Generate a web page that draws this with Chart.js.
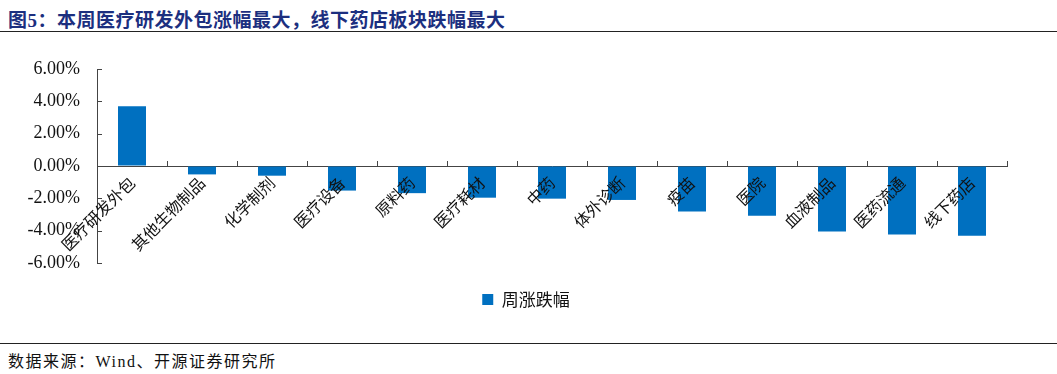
<!DOCTYPE html>
<html>
<head>
<meta charset="utf-8">
<script src="https://cdn.jsdelivr.net/npm/chart.js@4"></script>
<style>
  body { margin: 0; background: #fff; width: 1057px; height: 374px; position: relative; overflow: hidden; }
  #title { position: absolute; left: 8px; top: 5px; font: bold 19px "Liberation Serif", "Noto Sans CJK SC", serif; color: #1c2f7f; letter-spacing: 0.5px; }
  #topline { position: absolute; left: 0; top: 31px; width: 1057px; height: 0; border-top: 1.5px solid #222; }
  #bottomline { position: absolute; left: 0; top: 343px; width: 1057px; height: 0; border-top: 1px solid #222; }
  #source { position: absolute; left: 8px; top: 348px; font: 16px "Liberation Serif", "Noto Sans CJK SC", serif; color: #111; letter-spacing: 1.5px; }
  #wrap { position: absolute; left: 0; top: 40px; width: 1057px; height: 300px; }
</style>
</head>
<body>
<div id="title">图5：本周医疗研发外包涨幅最大，线下药店板块跌幅最大</div>
<div id="topline"></div>
<div id="wrap"><canvas id="chart"></canvas></div>
<div id="bottomline"></div>
<div id="source">数据来源：Wind、开源证券研究所</div>
<script>
const categories = ["医疗研发外包", "其他生物制品", "化学制剂", "医疗设备", "原料药", "医疗耗材", "中药", "体外诊断", "疫苗", "医院", "血液制品", "医药流通", "线下药店"];
const weeklyChange = [3.69, -0.52, -0.60, -1.52, -1.68, -1.96, -2.02, -2.10, -2.82, -3.07, -4.05, -4.23, -4.31];
const yTicks = [-6, -4, -2, 0, 2, 4, 6];

// tick marks drawn inside the plot: upward on the zero line, rightward on the y axis
const innerTicks = {
    id: "innerTicks",
    afterLayout(chart) {
        // y axis is kept narrow so the legend sits where it should; don't clip its labels
        chart.scales.y._computeLabelArea = () => undefined;
    },
    afterDatasetsDraw(chart) {
        const x = chart.scales.x, y = chart.scales.y;
        const y0 = y.getPixelForValue(0);
        const ctx = chart.ctx;
        ctx.save();
        ctx.strokeStyle = "#444";
        ctx.lineWidth = 1;
        ctx.beginPath();
        for (let i = 0; i <= categories.length; i++) {
            const px = Math.round(x.getPixelForValue(i - 0.5)) + 0.5;
            ctx.moveTo(px, y0);
            ctx.lineTo(px, y0 - 5);
        }
        yTicks.forEach(v => {
            const py = Math.round(y.getPixelForValue(v)) + 0.5;
            ctx.moveTo(x.left, py);
            ctx.lineTo(x.left + 5, py);
        });
        ctx.stroke();
        ctx.restore();
    }
};

new Chart(document.getElementById("chart"), {
    type: "bar",
    data: {
        labels: categories,
        datasets: [{
            label: "周涨跌幅",
            data: weeklyChange,
            backgroundColor: "#0070c0",
            borderWidth: 0,
            barPercentage: 0.4,
            categoryPercentage: 1
        }]
    },
    options: {
        responsive: true,
        maintainAspectRatio: false,
        animation: false,
        layout: { padding: { left: 45, right: 50, top: 29, bottom: 22 } },
        plugins: {
            tooltip: { enabled: false },
            legend: {
                position: "bottom",
                labels: {
                    boxWidth: 11, boxHeight: 11, color: "#111", padding: 28,
                    font: { family: "'Noto Sans CJK SC', sans-serif", size: 17 }
                }
            }
        },
        scales: {
            x: {
                position: { y: 0 },
                grid: { display: false, drawTicks: false },
                border: { color: "#444", width: 1 },
                ticks: {
                    z: 1,
                    maxRotation: 45, minRotation: 45, padding: 7, color: "#111",
                    autoSkip: false,
                    font: { family: "'Noto Sans CJK SC', sans-serif", size: 16 }
                }
            },
            y: {
                min: -6, max: 6,
                afterBuildTicks: s => { s.ticks = yTicks.map(v => ({ value: v })); },
                afterFit: s => { s.width = 52; },
                grid: { drawOnChartArea: false, drawTicks: false },
                border: { color: "#444", width: 1 },
                ticks: {
                    padding: 17, color: "#111",
                    font: { family: "'Liberation Serif', serif", size: 18 },
                    callback: v => v.toFixed(2) + "%"
                }
            }
        }
    },
    plugins: [innerTicks]
});
</script>
</body>
</html>
